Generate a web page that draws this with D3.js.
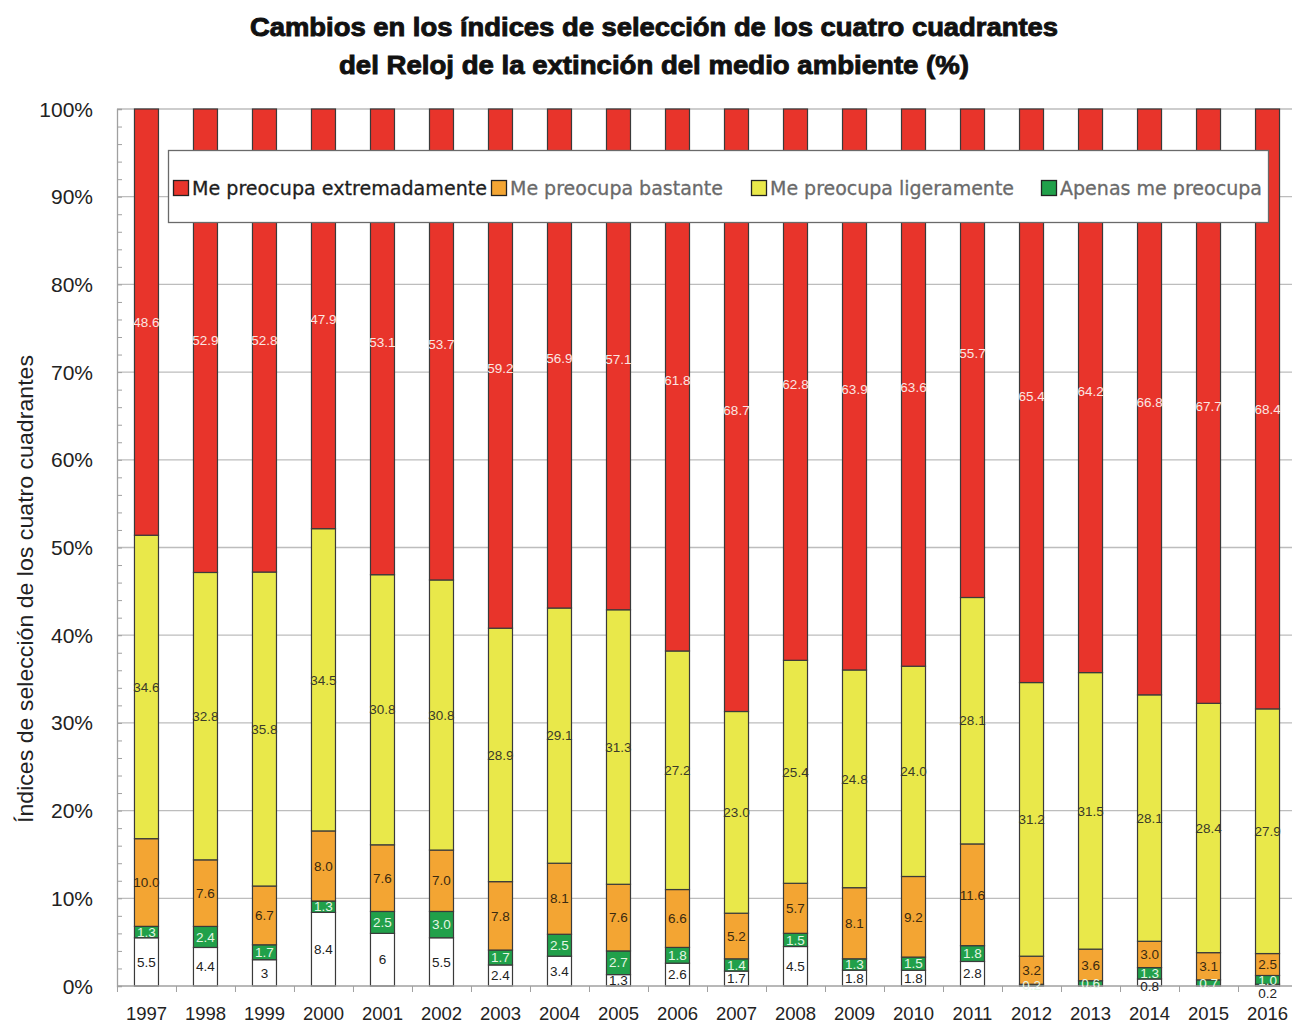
<!DOCTYPE html>
<html>
<head>
<meta charset="utf-8">
<script src="https://cdn.jsdelivr.net/npm/d3@7"></script>
<style>
  body { margin: 0; background: #fff; }
  svg { display: block; }
</style>
</head>
<body>
<div id="chart"></div>
<script>
// years on the x axis
var years = ["1997", "1998", "1999", "2000", "2001", "2002", "2003", "2004", "2005", "2006",
  "2007", "2008", "2009", "2010", "2011", "2012", "2013", "2014", "2015", "2016"];

// values per answer (%)
var extremadamente = [48.6, 52.9, 52.8, 47.9, 53.1, 53.7, 59.2, 56.9, 57.1, 61.8,
  68.7, 62.8, 63.9, 63.6, 55.7, 65.4, 64.2, 66.8, 67.7, 68.4];
var ligeramente = [34.6, 32.8, 35.8, 34.5, 30.8, 30.8, 28.9, 29.1, 31.3, 27.2,
  23.0, 25.4, 24.8, 24.0, 28.1, 31.2, 31.5, 28.1, 28.4, 27.9];
var bastante = [10.0, 7.6, 6.7, 8.0, 7.6, 7.0, 7.8, 8.1, 7.6, 6.6,
  5.2, 5.7, 8.1, 9.2, 11.6, 3.2, 3.6, 3.0, 3.1, 2.5];
var apenas = [1.3, 2.4, 1.7, 1.3, 2.5, 3.0, 1.7, 2.5, 2.7, 1.8,
  1.4, 1.5, 1.3, 1.5, 1.8, 0.2, 0.6, 1.3, 0.7, 1.0];
var sinRespuesta = [5.5, 4.4, 3, 8.4, 6, 5.5, 2.4, 3.4, 1.3, 2.6,
  1.7, 4.5, 1.8, 1.8, 2.8, 0, 0, 0.8, 0, 0.2];

var yTicks = [0, 0.1, 0.2, 0.3, 0.4, 0.5, 0.6, 0.7, 0.8, 0.9, 1];
var legendNames = ["Me preocupa extremadamente", "Me preocupa bastante", "Me preocupa ligeramente", "Apenas me preocupa"];

var title1 = "Cambios en los índices de selección de los cuatro cuadrantes";
var title2 = "del Reloj de la extinción del medio ambiente (%)";
var yTitle = "Índices de selección de los cuatro cuadrantes";

// series setup, stacked from the bottom up
var series = [
  { key: "sin", values: sinRespuesta, fill: "#ffffff", text: "#222222", fmt: function (v) { return String(v); } },
  { key: "apenas", values: apenas, fill: "#21a04a", text: "#e4f6e4", fmt: d3.format(".1f") },
  { key: "bastante", values: bastante, fill: "#f3a533", text: "#3a2a10", fmt: d3.format(".1f") },
  { key: "ligeramente", values: ligeramente, fill: "#e9e84a", text: "#3a3a2a", fmt: d3.format(".1f") },
  { key: "extremadamente", values: extremadamente, fill: "#e8342b", text: "#fbe6e2", fmt: d3.format(".1f") }
];

var rows = years.map(function (y, i) {
  var r = { year: y };
  series.forEach(function (s) { r[s.key] = s.values[i]; });
  return r;
});

var W = 1304, H = 1025;
var margin = { top: 109, left: 117 };
var plotW = 1180, plotH = 986 - 109;

var svg = d3.select("#chart").append("svg")
  .attr("width", W)
  .attr("height", H);

var g = svg.append("g")
  .attr("transform", "translate(" + margin.left + "," + margin.top + ")");

var x = d3.scaleBand()
  .domain(years)
  .range([0, plotW])
  .paddingInner(0.593)
  .paddingOuter(0.296);

var y = d3.scaleLinear()
  .domain([0, 1])
  .range([plotH, 0]);

// grid lines
g.append("g")
  .selectAll("line")
  .data(yTicks.slice(1))
  .enter()
  .append("line")
  .attr("x1", 0)
  .attr("x2", plotW - 5)
  .attr("y1", function (d) { return y(d); })
  .attr("y2", function (d) { return y(d); })
  .attr("stroke", "#bdbdbd")
  .attr("stroke-width", 1.3);

// y axis with minor ticks
var yAxis = g.append("g")
  .call(d3.axisRight(y).tickValues(d3.range(0, 1.001, 0.02)).tickSize(5).tickFormat(""));
yAxis.select(".domain").attr("stroke", "#a0a0a0").attr("stroke-width", 1.3);
yAxis.selectAll(".tick line").attr("stroke", "#a0a0a0");

g.append("g")
  .selectAll("text")
  .data(yTicks)
  .enter()
  .append("text")
  .attr("x", -24)
  .attr("y", function (d) { return y(d); })
  .attr("dy", "0.36em")
  .attr("text-anchor", "end")
  .style("font-family", "Liberation Sans, Arial, sans-serif")
  .style("font-size", "21px")
  .style("fill", "#222")
  .text(function (d) { return d3.format(".0%")(d); });

// stacked bars
var stack = d3.stack()
  .keys(series.map(function (s) { return s.key; }))
  .offset(d3.stackOffsetExpand);
var stacked = stack(rows);

var layers = g.selectAll(".layer")
  .data(stacked)
  .enter()
  .append("g")
  .attr("class", "layer")
  .attr("fill", function (d, i) { return series[i].fill; });

layers.selectAll("rect")
  .data(function (d) { return d; })
  .enter()
  .append("rect")
  .attr("x", function (d) { return x(d.data.year); })
  .attr("y", function (d) { return y(d[1]); })
  .attr("width", x.bandwidth())
  .attr("height", function (d) { return y(d[0]) - y(d[1]); })
  .attr("stroke", "#3a3a3a")
  .attr("stroke-width", 1.2);

// x axis
var xAxis = g.append("g")
  .attr("transform", "translate(0," + plotH + ")");
xAxis.append("line")
  .attr("x1", 0).attr("x2", plotW - 5)
  .attr("stroke", "#a0a0a0").attr("stroke-width", 1.3);
xAxis.selectAll(".xt")
  .data(years)
  .enter()
  .append("line")
  .attr("class", "xt")
  .attr("x1", function (d) { return x(d) - x.step() * x.paddingInner() / 2 + 0.5; })
  .attr("x2", function (d) { return x(d) - x.step() * x.paddingInner() / 2 + 0.5; })
  .attr("y1", 0).attr("y2", 6)
  .attr("stroke", "#a0a0a0");
xAxis.selectAll(".xl")
  .data(years)
  .enter()
  .append("text")
  .attr("class", "xl")
  .attr("x", function (d) { return x(d) + x.bandwidth() / 2; })
  .attr("y", 34)
  .attr("text-anchor", "middle")
  .style("font-family", "Liberation Sans, Arial, sans-serif")
  .style("font-size", "18.5px")
  .style("fill", "#222")
  .text(function (d) { return d; });

// data labels (small bottom labels get pushed below the one above)
var labelPos = years.map(function () { return {}; });
stacked.slice().reverse().forEach(function (layer) {
  var si = series.findIndex(function (s) { return s.key === layer.key; });
  layer.forEach(function (d, i) {
    var v = series[si].values[i];
    if (!v) return;
    var cy = (y(d[0]) + y(d[1])) / 2;
    if (layer.key === "sin" && labelPos[i].apenas !== undefined) {
      cy = Math.max(cy, labelPos[i].apenas + 13);
    }
    labelPos[i][layer.key] = cy;
    g.append("text")
      .attr("x", x(d.data.year) + x.bandwidth() / 2)
      .attr("y", cy)
      .attr("dy", "0.35em")
      .attr("text-anchor", "middle")
      .style("font-family", "Liberation Sans, Arial, sans-serif")
      .style("font-size", "13.5px")
      .style("fill", series[si].text)
      .text(series[si].fmt(v));
  });
});

// legend
var legendOrder = ["extremadamente", "bastante", "ligeramente", "apenas"];
var legendX = [173, 491, 751, 1041];
var legendW = [295, 213, 244, 202];
var legend = svg.append("g");
legend.append("rect")
  .attr("x", 168.5).attr("y", 150.5)
  .attr("width", 1100).attr("height", 72)
  .attr("fill", "#fff")
  .attr("stroke", "#6a6a6a")
  .attr("stroke-width", 1.3);
legendOrder.forEach(function (k, i) {
  var s = series.find(function (d) { return d.key === k; });
  legend.append("rect")
    .attr("x", legendX[i] + 0.5).attr("y", 180.5)
    .attr("width", 15).attr("height", 15)
    .attr("fill", s.fill)
    .attr("stroke", "#222").attr("stroke-width", 1.3);
  legend.append("text")
    .attr("x", legendX[i] + 19)
    .attr("y", 195)
    .attr("textLength", legendW[i])
    .attr("lengthAdjust", "spacingAndGlyphs")
    .style("font-family", "DejaVu Sans, Verdana, sans-serif")
    .style("font-size", "20px")
    .style("fill", i === 0 ? "#1e1e1e" : "#6a6a6a")
    .style("stroke", i === 0 ? "#1e1e1e" : "#6a6a6a")
    .style("stroke-width", 0.3)
    .text(legendNames[i]);
});

// titles
[title1, title2].forEach(function (t, i) {
  svg.append("text")
    .attr("x", 654).attr("y", 36 + i * 38)
    .attr("text-anchor", "middle")
    .attr("textLength", i === 0 ? 808 : 630)
    .attr("lengthAdjust", "spacingAndGlyphs")
    .style("font-family", "Liberation Sans Narrow, Liberation Sans, Arial, sans-serif")
    .style("font-weight", "bold")
    .style("font-size", "25px")
    .style("fill", "#111")
    .style("stroke", "#111")
    .style("stroke-width", 0.9)
    .text(t);
});

svg.append("text")
  .attr("transform", "translate(33,589) rotate(-90)")
  .attr("text-anchor", "middle")
  .attr("textLength", 468)
  .attr("lengthAdjust", "spacingAndGlyphs")
  .style("font-family", "Liberation Sans, Arial, sans-serif")
  .style("font-size", "21.5px")
  .style("fill", "#222")
  .text(yTitle);
</script>
</body>
</html>
